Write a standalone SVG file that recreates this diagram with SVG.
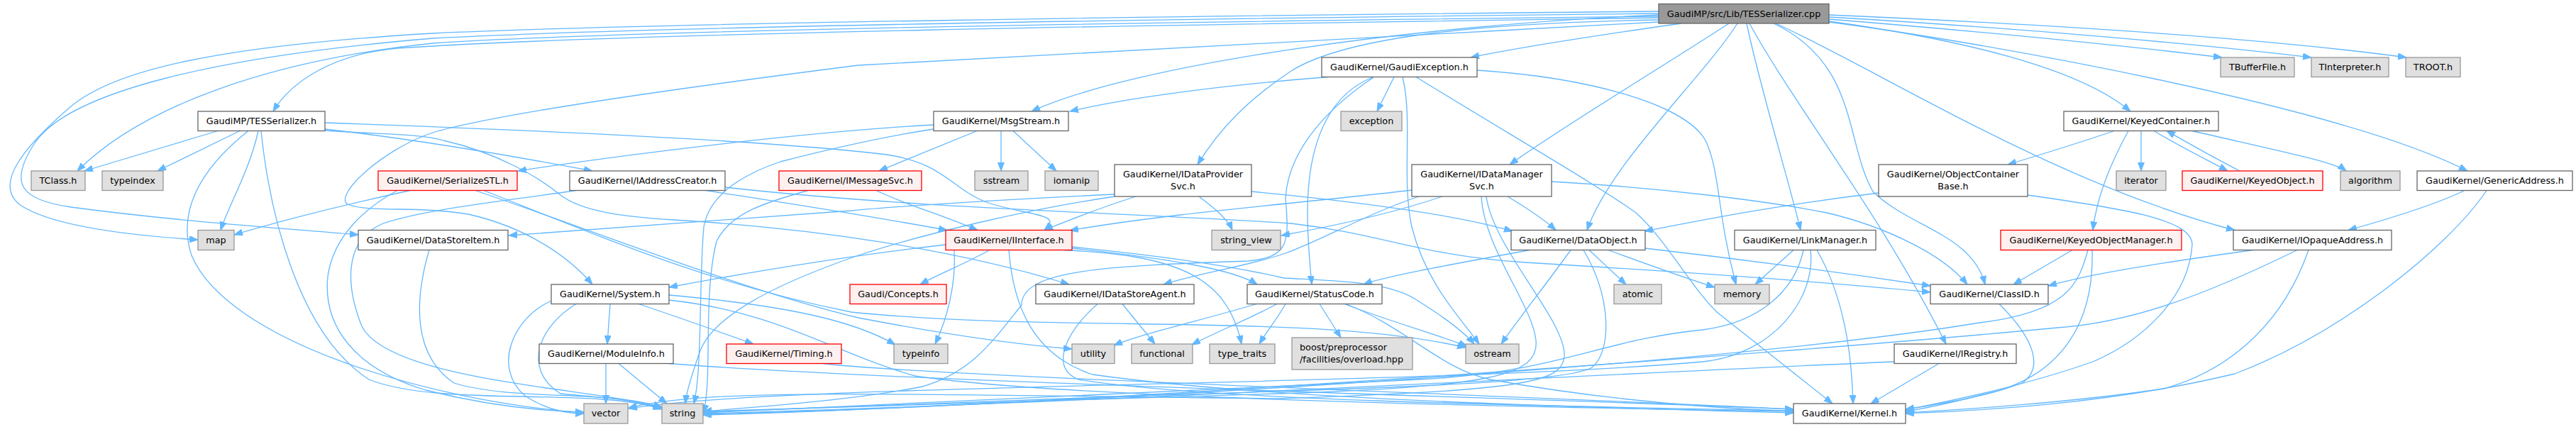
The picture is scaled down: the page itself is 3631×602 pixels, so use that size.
<svg xmlns="http://www.w3.org/2000/svg" width="3631" height="602" viewBox="0 0 3631 602">
<defs>
<style>
text{font-family:"DejaVu Sans","Liberation Sans",sans-serif;font-size:12.8px;fill:#000;text-anchor:middle}
.w{fill:#fff;stroke:#666;stroke-width:1.3}
.g{fill:#e0e0e0;stroke:#999;stroke-width:1.3}
.r{fill:#fff0f0;stroke:#f00;stroke-width:1.3}
.t{fill:#999;stroke:#666;stroke-width:1.3}
#edges path{fill:none;stroke:#63b8ff;stroke-width:1.3;marker-end:url(#a)}
</style>
<marker id="a" markerUnits="userSpaceOnUse" markerWidth="13" markerHeight="10" refX="12" refY="4.5" orient="auto" viewBox="0 0 13 10"><path d="M0,0 L12,4.5 L0,9 z" fill="#63b8ff" stroke="#63b8ff" stroke-width="1"/></marker>
</defs>
<rect width="3631" height="602" fill="#fff"/>
<g id="edges">
<path d="M2578,27 C2800,45 3000,65 3132,81"/>
<path d="M2578,24 C2850,40 3100,62 3258,81"/>
<path d="M2578,21 C2900,35 3200,55 3392,81"/>
<path d="M2578,30 C2760,55 2930,95 3003,157"/>
<path d="M2578,31 C2800,60 3300,150 3478,241"/>
<path d="M2503,33 C2650,100 2900,260 3150,324.5"/>
<path d="M2500,33 C2620,90 2600,200 2640,270 C2690,320 2780,330 2798,401"/>
<path d="M2466,33 C2530,150 2650,300 2743,485"/>
<path d="M2462,33 C2480,120 2520,250 2538,324.5"/>
<path d="M2449,33 C2400,110 2270,230 2237,324.5"/>
<path d="M2437,33 C2350,90 2200,180 2128,232"/>
<path d="M2370,33 C2250,50 2150,65 2073,81"/>
<path d="M2338,21 C2000,35 1600,90 1454,157"/>
<path d="M2338,28 C2100,32 1900,50 1820,100 C1760,140 1720,180 1688,232"/>
<path d="M2338,25 C1800,33 900,45 560,68 C470,76 410,115 385,157"/>
<path d="M2338,23 C1700,30 900,42 610,61 C380,85 200,150 109,241"/>
<path d="M2338,19 C1700,26 900,38 610,54 C300,80 100,130 50,200 C10,260 30,282 100,292 C250,312 400,322 505,331"/>
<path d="M2338,16 C1700,22 900,33 610,47 C300,65 160,100 100,150 C30,210 -10,262 30,290 C80,322 200,333 279,338"/>
<path d="M2338,31 C1900,55 1400,80 1210,92 C950,125 700,160 610,187 C540,210 470,275 490,288 C520,300 590,290 660,302 C740,320 800,360 835,401"/>
<path d="M307,184.5 L119,241"/>
<path d="M338,184.5 L222,241"/>
<path d="M364,184.5 C352,240 322,290 311,324.5"/>
<path d="M350,184.5 C280,240 250,300 270,360 C320,480 600,565 823,582"/>
<path d="M368,184.5 C380,300 420,470 520,535 C620,575 840,545 933,577"/>
<path d="M458,182 C600,198 750,225 835,241"/>
<path d="M458,173 C800,185 1100,200 1250,218 C1330,230 1340,265 1390,285 C1450,305 1500,300 1472,324.5"/>
<path d="M458,184 C540,190 590,188 625,198 C700,215 760,250 790,275 C820,298 880,306 950,310 C1150,322 1350,352 1507,401"/>
<path d="M1872,108.5 C1750,118 1600,135 1508,157"/>
<path d="M1965,108.5 L1941,157"/>
<path d="M1936,108.5 C1880,130 1843,190 1843,300 C1843,340 1846,370 1849,401"/>
<path d="M1936,109 C1860,160 1815,220 1812,280 C1818,345 1815,362 1760,368 C1560,375 1440,380 1440,430 C1400,480 1370,525 1300,545 C1200,565 1050,575 991,580"/>
<path d="M1977,108.5 C1992,170 1975,250 1990,320 C2010,400 2060,450 2085,485"/>
<path d="M1996,108.5 C2120,185 2250,260 2306,300 C2350,340 2380,400 2420,440 L2583,569"/>
<path d="M2082,99 C2250,110 2380,150 2405,200 C2425,245 2420,300 2447,401"/>
<path d="M1316,176 C1150,185 900,215 730,241"/>
<path d="M1377,184.5 L1239,241"/>
<path d="M1411,184.5 L1411,241"/>
<path d="M1428,184.5 L1489,241"/>
<path d="M1316,182 C1230,195 1150,215 1100,228 C1050,245 1000,272 992,320 C985,400 990,520 978,569"/>
<path d="M1235,268.5 C1280,290 1320,300 1378,324.5"/>
<path d="M1139,268.5 C1080,285 1030,300 1010,340 C990,420 1005,540 991,582"/>
<path d="M812,268.5 C700,285 600,295 540,315 C480,340 490,410 510,460 C550,540 860,548 933,576"/>
<path d="M995,268.5 C1100,285 1200,300 1335,324.5"/>
<path d="M1022,264 C1300,295 1600,300 1820,315 C1950,330 2000,360 2150,370 C2400,385 2600,400 2721,412"/>
<path d="M605,352.5 C585,420 580,500 640,540 C720,565 860,550 933,574"/>
<path d="M1571,274 C1400,282 1250,292 1200,297 C1000,312 800,325 717,332"/>
<path d="M1601,277 C1560,290 1520,305 1472,324.5"/>
<path d="M1690,277 C1710,292 1730,308 1737,324.5"/>
<path d="M1764,270 C1900,283 2050,302 2132,326"/>
<path d="M1571,277 C1450,295 1300,330 1210,360 C1080,405 1000,450 985,500 C975,530 968,550 966,569"/>
<path d="M1990,268 C1850,285 1650,300 1508,325"/>
<path d="M2000,277 C1930,300 1860,340 1812,357 C1760,375 1690,385 1640,401"/>
<path d="M2033,277 C1980,295 1900,315 1806,332"/>
<path d="M2088,277 C2092,350 2160,430 2165,480 C2170,530 2100,545 1800,555 C1500,565 1200,575 991,580"/>
<path d="M2095,277 C2105,350 2205,450 2205,500 C2205,540 2150,550 1800,562 C1200,555 1000,548 886,575"/>
<path d="M2125,277 C2150,292 2175,308 2193,324.5"/>
<path d="M2187,256 C2350,265 2500,285 2575,300 C2660,320 2740,360 2773,401"/>
<path d="M2156,352.5 C2050,372 1950,390 1922,401"/>
<path d="M2214,352.5 C2180,400 2140,450 2116,485"/>
<path d="M2232,352.5 C2272,420 2272,495 2244,518 C2200,545 1800,550 1500,562 C1200,572 1050,578 991,581"/>
<path d="M2240,352.5 L2292,401"/>
<path d="M2267,352.5 C2320,372 2370,390 2417,405"/>
<path d="M2319,350 C2450,365 2600,385 2721,403"/>
<path d="M1860,428.5 L1890,476"/>
<path d="M1895,428.5 C1950,450 2020,470 2068,488"/>
<path d="M1511,348 C1650,362 1750,378 1810,392 C1880,396 1960,396 2000,425 C2040,450 2065,470 2078,485"/>
<path d="M1897,428.5 C1980,460 2030,520 2100,535 C2250,562 2400,575 2528,580"/>
<path d="M1771,428.5 C1700,450 1610,470 1570,487"/>
<path d="M1800,428.5 C1760,450 1710,470 1680,486"/>
<path d="M1812,428.5 C1800,450 1785,468 1775,485"/>
<path d="M1395,352.5 C1360,372 1320,388 1297,401"/>
<path d="M1422,352.5 C1428,430 1455,500 1540,528 C1800,565 2300,576 2528,582"/>
<path d="M1500,352.5 C1660,360 1730,390 1750,485"/>
<path d="M1511,350 C1650,365 1740,380 1772,401"/>
<path d="M1333,345 C1200,360 1050,385 943,405"/>
<path d="M1345,352.5 C1348,400 1335,450 1318,485"/>
<path d="M860,428.5 L856,485"/>
<path d="M900,428.5 C950,445 1020,470 1062,485"/>
<path d="M777,424 C720,450 695,520 740,558 C770,578 800,583 823,583"/>
<path d="M812,428.5 C760,460 735,520 790,555 C840,560 890,562 933,576"/>
<path d="M943,416 C1100,430 1200,450 1262,486"/>
<path d="M943,423 C1100,440 1180,500 1290,530 C1500,562 2200,575 2528,580"/>
<path d="M854,512.5 L854,569"/>
<path d="M872,512.5 L940,569"/>
<path d="M942,512.5 C1300,540 2200,562 2528,577"/>
<path d="M1160,512.5 C1300,530 2200,560 2528,577"/>
<path d="M1582,428.5 L1628,485"/>
<path d="M1547,428.5 C1500,470 1480,520 1520,535 C1700,565 2200,573 2528,579"/>
<path d="M578,268.5 C480,290 400,310 330,331"/>
<path d="M560,268.5 C520,290 470,330 462,390 C455,460 500,520 600,550 C700,575 780,580 823,581"/>
<path d="M670,268.5 C850,330 1050,410 1210,448 C1350,475 1450,487 1511,492"/>
<path d="M682,268.5 C850,335 1000,400 1200,440 C1500,470 1850,440 2066,490"/>
<path d="M2818,428.5 C2870,480 2880,520 2850,540 C2800,560 2730,570 2686,577"/>
<path d="M2528,352.5 L2474,401"/>
<path d="M2542,352.5 C2530,410 2480,455 2400,465 C2250,480 2200,525 2000,535 C1600,555 1100,576 991,582"/>
<path d="M2552,352.5 C2560,420 2500,500 2400,510 C2000,545 1100,540 886,576"/>
<path d="M2561,352.5 C2600,420 2610,500 2612,569"/>
<path d="M2670,510 C2300,525 1500,570 991,583"/>
<path d="M2733,512.5 L2637,569"/>
<path d="M2921,352.5 L2838,401"/>
<path d="M2943,352.5 C2930,400 2915,440 2790,455 C2400,520 1400,575 991,584"/>
<path d="M2949,352.5 C2952,450 2910,530 2800,555 C2750,568 2720,575 2686,580"/>
<path d="M3176,352.5 C3050,370 2950,385 2887,403"/>
<path d="M3238,352.5 C3100,420 3000,455 2900,462 C2500,500 1500,572 991,585"/>
<path d="M3254,352.5 C3220,450 3150,520 3050,548 C2900,570 2750,578 2686,582"/>
<path d="M3474,268.5 C3440,285 3380,305 3310,324.5"/>
<path d="M3505,268.5 C3450,350 3300,470 3150,527 C2950,575 2750,580 2686,583"/>
<path d="M2980,184.5 C2920,205 2870,220 2830,232"/>
<path d="M3000,184.5 C2975,230 2955,280 2950,324.5"/>
<path d="M3018,184.5 L3018,241"/>
<path d="M3036,184.5 C3070,205 3110,225 3140,241"/>
<path d="M3090,184.5 C3200,210 3290,228 3307,241"/>
<path d="M3157,241 C3120,222 3085,202 3054,184.5"/>
<path d="M2648,272 C2500,290 2400,310 2318,326"/>
<path d="M2858,275 C3000,295 3090,310 3090,345 C3085,420 3020,480 2950,510 C2850,545 2750,565 2686,578"/>
</g>
<g id="n0"><rect class="t" x="2338" y="5.5" width="240" height="27.5"/><text x="2458" y="23.8">GaudiMP/src/Lib/TESSerializer.cpp</text></g>
<g id="n1"><rect class="w" x="1863" y="81" width="219" height="27.5"/><text x="1972.5" y="99.3">GaudiKernel/GaudiException.h</text></g>
<g id="n2"><rect class="g" x="3130" y="81" width="104" height="27.5"/><text x="3182" y="99.3">TBufferFile.h</text></g>
<g id="n3"><rect class="g" x="3258" y="81" width="109" height="27.5"/><text x="3312.5" y="99.3">TInterpreter.h</text></g>
<g id="n4"><rect class="g" x="3391" y="81" width="77" height="27.5"/><text x="3429.5" y="99.3">TROOT.h</text></g>
<g id="n5"><rect class="w" x="279" y="157" width="179" height="27.5"/><text x="368.5" y="175.3">GaudiMP/TESSerializer.h</text></g>
<g id="n6"><rect class="w" x="1316" y="157" width="190" height="27.5"/><text x="1411" y="175.3">GaudiKernel/MsgStream.h</text></g>
<g id="n7"><rect class="g" x="1890" y="157" width="86" height="27.5"/><text x="1933" y="175.3">exception</text></g>
<g id="n8"><rect class="w" x="2909" y="157" width="218" height="27.5"/><text x="3018" y="175.3">GaudiKernel/KeyedContainer.h</text></g>
<g id="n9"><rect class="g" x="44" y="241" width="76" height="27.5"/><text x="82" y="259.3">TClass.h</text></g>
<g id="n10"><rect class="g" x="144" y="241" width="86" height="27.5"/><text x="187" y="259.3">typeindex</text></g>
<g id="n11"><rect class="r" x="533" y="241" width="196" height="27.5"/><text x="631" y="259.3">GaudiKernel/SerializeSTL.h</text></g>
<g id="n12"><rect class="w" x="803" y="241" width="219" height="27.5"/><text x="912.5" y="259.3">GaudiKernel/IAddressCreator.h</text></g>
<g id="n13"><rect class="r" x="1098" y="241" width="201" height="27.5"/><text x="1198.5" y="259.3">GaudiKernel/IMessageSvc.h</text></g>
<g id="n14"><rect class="g" x="1374" y="241" width="75" height="27.5"/><text x="1411.5" y="259.3">sstream</text></g>
<g id="n15"><rect class="g" x="1473" y="241" width="75" height="27.5"/><text x="1510.5" y="259.3">iomanip</text></g>
<g id="n16"><rect class="w" x="1571" y="232" width="193" height="45"/><text x="1667.5" y="249.5">GaudiKernel/IDataProvider</text><text x="1667.5" y="267">Svc.h</text></g>
<g id="n17"><rect class="w" x="1990" y="232" width="197" height="45"/><text x="2088.5" y="249.5">GaudiKernel/IDataManager</text><text x="2088.5" y="267">Svc.h</text></g>
<g id="n18"><rect class="w" x="2648" y="232" width="210" height="45"/><text x="2753" y="249.5">GaudiKernel/ObjectContainer</text><text x="2753" y="267">Base.h</text></g>
<g id="n19"><rect class="g" x="2983" y="241" width="70" height="27.5"/><text x="3018" y="259.3">iterator</text></g>
<g id="n20"><rect class="r" x="3076" y="241" width="198" height="27.5"/><text x="3175" y="259.3">GaudiKernel/KeyedObject.h</text></g>
<g id="n21"><rect class="g" x="3299" y="241" width="84" height="27.5"/><text x="3341" y="259.3">algorithm</text></g>
<g id="n22"><rect class="w" x="3407" y="241" width="219" height="27.5"/><text x="3516.5" y="259.3">GaudiKernel/GenericAddress.h</text></g>
<g id="n23"><rect class="g" x="279" y="324.5" width="51" height="28"/><text x="304.5" y="342.8">map</text></g>
<g id="n24"><rect class="w" x="505" y="324.5" width="211" height="28"/><text x="610.5" y="342.8">GaudiKernel/DataStoreItem.h</text></g>
<g id="n25"><rect class="r" x="1333" y="324.5" width="178" height="28"/><text x="1422" y="342.8">GaudiKernel/IInterface.h</text></g>
<g id="n26"><rect class="g" x="1708" y="324.5" width="97" height="28"/><text x="1756.5" y="342.8">string_view</text></g>
<g id="n27"><rect class="w" x="2130" y="324.5" width="189" height="28"/><text x="2224.5" y="342.8">GaudiKernel/DataObject.h</text></g>
<g id="n28"><rect class="w" x="2445" y="324.5" width="199" height="28"/><text x="2544.5" y="342.8">GaudiKernel/LinkManager.h</text></g>
<g id="n29"><rect class="r" x="2820" y="324.5" width="255" height="28"/><text x="2947.5" y="342.8">GaudiKernel/KeyedObjectManager.h</text></g>
<g id="n30"><rect class="w" x="3148" y="324.5" width="223" height="28"/><text x="3259.5" y="342.8">GaudiKernel/IOpaqueAddress.h</text></g>
<g id="n31"><rect class="w" x="777" y="401" width="166" height="27.5"/><text x="860" y="419.3">GaudiKernel/System.h</text></g>
<g id="n32"><rect class="r" x="1198" y="401" width="136" height="27.5"/><text x="1266" y="419.3">Gaudi/Concepts.h</text></g>
<g id="n33"><rect class="w" x="1460" y="401" width="223" height="27.5"/><text x="1571.5" y="419.3">GaudiKernel/IDataStoreAgent.h</text></g>
<g id="n34"><rect class="w" x="1758" y="401" width="190" height="27.5"/><text x="1853" y="419.3">GaudiKernel/StatusCode.h</text></g>
<g id="n35"><rect class="g" x="2275" y="401" width="67" height="27.5"/><text x="2308.5" y="419.3">atomic</text></g>
<g id="n36"><rect class="g" x="2417" y="401" width="77" height="27.5"/><text x="2455.5" y="419.3">memory</text></g>
<g id="n37"><rect class="w" x="2721" y="401" width="166" height="27.5"/><text x="2804" y="419.3">GaudiKernel/ClassID.h</text></g>
<g id="n38"><rect class="w" x="760" y="485" width="189" height="27.5"/><text x="854.5" y="503.3">GaudiKernel/ModuleInfo.h</text></g>
<g id="n39"><rect class="r" x="1024" y="485" width="162" height="27.5"/><text x="1105" y="503.3">GaudiKernel/Timing.h</text></g>
<g id="n40"><rect class="g" x="1260" y="485" width="76" height="27.5"/><text x="1298" y="503.3">typeinfo</text></g>
<g id="n41"><rect class="g" x="1511" y="485" width="60" height="27.5"/><text x="1541" y="503.3">utility</text></g>
<g id="n42"><rect class="g" x="1595" y="485" width="86" height="27.5"/><text x="1638" y="503.3">functional</text></g>
<g id="n43"><rect class="g" x="1705" y="485" width="92" height="27.5"/><text x="1751" y="503.3">type_traits</text></g>
<g id="n44"><rect class="g" x="1821" y="476" width="170" height="45"/><text x="1832" y="494" style="text-anchor:start">boost/preprocessor</text><text x="1832" y="511.3" style="text-anchor:start">/facilities/overload.hpp</text></g>
<g id="n45"><rect class="g" x="2066" y="485" width="75" height="27.5"/><text x="2103.5" y="503.3">ostream</text></g>
<g id="n46"><rect class="w" x="2670" y="485" width="172" height="27.5"/><text x="2756" y="503.3">GaudiKernel/IRegistry.h</text></g>
<g id="n47"><rect class="g" x="823" y="569" width="62" height="28"/><text x="854" y="587.3">vector</text></g>
<g id="n48"><rect class="g" x="933" y="569" width="58" height="28"/><text x="962" y="587.3">string</text></g>
<g id="n49"><rect class="w" x="2528" y="569" width="158" height="28"/><text x="2607" y="587.3">GaudiKernel/Kernel.h</text></g>
</svg>
